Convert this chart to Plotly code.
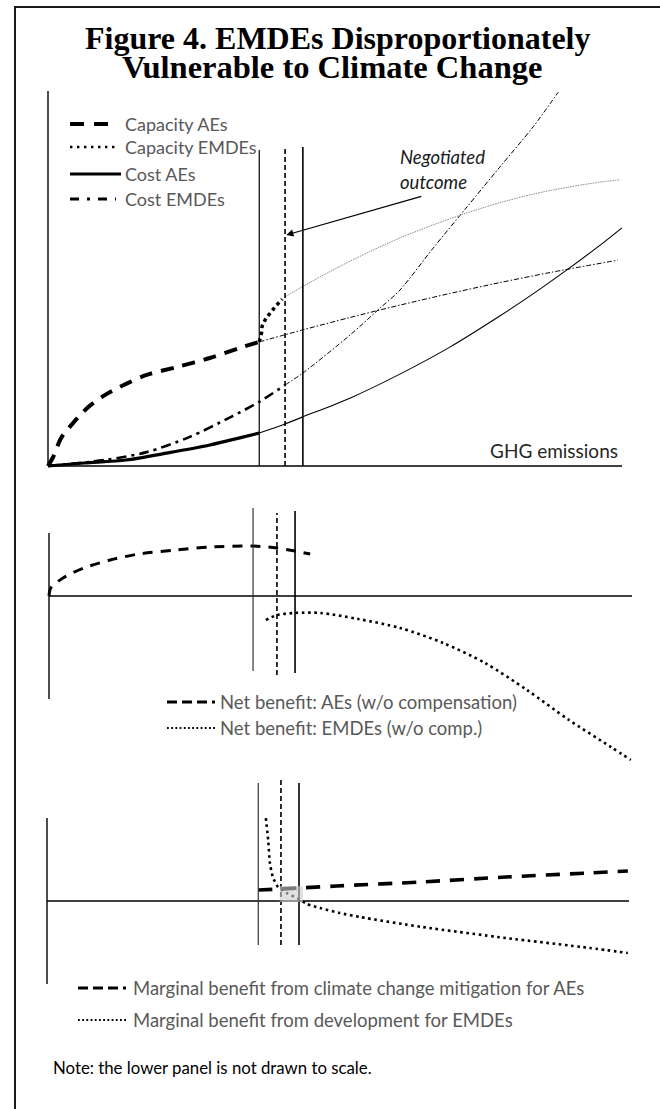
import plotly.graph_objects as go

W, H = 660, 1109

# ---------------- DATA ----------------
# Panel 1 (x: GHG emissions index, y: value index)
cap_ae_x = [0, 0.9, 2.3, 4.5, 7.0, 9.9, 13.6, 17.2, 22.5, 28.2, 33.4, 36.8]
cap_ae_y = [0, 2.4, 7.5, 11.7, 15.7, 18.9, 21.9, 24.3, 26.4, 28.8, 31.5, 33.1]
cap_ae_ext_x = [36.8, 44.4, 52.6, 61.3, 70.0, 78.7, 87.5, 99.3]
cap_ae_ext_y = [33.1, 36.3, 39.6, 42.9, 46.0, 48.9, 51.6, 54.9]
cap_em_x = [36.8, 37.2, 37.3, 38.0, 38.9, 39.7, 40.8]
cap_em_y = [33.1, 35.5, 37.3, 39.5, 41.1, 42.7, 44.5]
cap_em_ext_x = [41.3, 44.4, 50.3, 56.1, 61.3, 67.1, 73.0, 78.7, 84.5, 90.4, 96.2, 99.7]
cap_em_ext_y = [45.1, 47.9, 52.8, 57.2, 60.8, 64.3, 67.5, 70.2, 72.5, 74.3, 75.7, 76.3]
cost_ae_x = [0, 6.3, 13.6, 20.9, 28.2, 33.4, 36.8]
cost_ae_y = [0, 0.8, 1.6, 3.5, 5.6, 7.5, 8.8]
cost_ae_ext_x = [36.8, 41.3, 44.4, 52.6, 61.3, 70.0, 78.7, 84.5, 90.4, 96.2, 100]
cost_ae_ext_y = [8.8, 11.2, 13.1, 18.1, 24.5, 31.7, 40.0, 45.9, 52.3, 58.9, 63.5]
cost_em_x = [0, 9.9, 17.2, 24.6, 31.9, 36.8, 41.3]
cost_em_y = [0, 1.6, 3.7, 7.7, 13.1, 17.1, 21.6]
cost_em_ext_x = [41.3, 44.4, 52.6, 57.7, 61.3, 67.1, 73.0, 78.7, 84.5, 88.9]
cost_em_ext_y = [21.6, 24.8, 34.9, 41.9, 46.9, 58.1, 69.1, 79.7, 90.4, 99.7]
neg1_x = [36.8, 41.3, 44.4]
neg1_top = [84.3, 85.1, 85.1]
axis1_x = [0, 100]
axis1_y = [0, 100]
arrow1_head = (41.5, 61.6)
arrow1_tail = (65.3, 72.0)

# Panel 2 (net benefit)
nb_ae_x = [0, 0.3, 2.4, 6.0, 10.5, 15.4, 22.0, 27.8, 35.0, 39.1, 42.2, 44.8]
nb_ae_y = [0, 5.3, 12.0, 18.7, 24.0, 28.0, 30.7, 32.7, 33.3, 32.0, 30.0, 28.0]
nb_em_x = [37.2, 39.1, 42.2, 46.5, 53.0, 60.2, 67.6, 74.8, 82.0, 89.2, 96.4, 99.8]
nb_em_y = [-16.0, -12.7, -11.3, -11.3, -15.3, -21.3, -31.3, -44.7, -62.7, -82.7, -100.7, -109.3]
neg2_x = [35.0, 39.1, 42.2]
neg2_top = [58.7, 55.3, 56.7]
neg2_bot = [-50.0, -52.7, -51.3]
axis2_x = [0, 100]
axis2_y = [-68.7, 42.0]

# Panel 3 (marginal benefit)
mb_ae_x = [36.3, 40.0, 43.5, 49.8, 64.4, 78.9, 93.3, 99.8]
mb_ae_y = [7.3, 8.0, 8.7, 10.0, 12.7, 16.0, 18.7, 20.0]
mb_em_x = [37.6, 38.0, 38.3, 38.8, 39.7, 41.2, 43.3, 44.7, 46.9, 50.3, 53.8, 64.4, 78.9, 93.3, 99.8]
mb_em_y = [55.3, 40.7, 25.3, 16.0, 9.3, 5.3, 1.3, -2.0, -4.7, -8.0, -10.7, -17.3, -24.7, -31.3, -34.7]
neg3_x = [36.3, 40.2, 43.3]
neg3_top = [78.7, 80.7, 78.7]
neg3_bot = [-29.3, -29.3, -29.3]
shade3_x = [40.0, 44.0]
shade3_y = [-0.7, 10.0]
axis3_x = [0, 100]
axis3_y = [-55.3, 55.3]

# Text
title_1 = "Figure 4. EMDEs Disproportionately"
title_2 = "Vulnerable to Climate Change"
legend1 = ["Capacity AEs", "Capacity EMDEs", "Cost AEs", "Cost EMDEs"]
legend2 = ["Net benefit: AEs (w/o compensation)", "Net benefit: EMDEs (w/o comp.)"]
legend3 = ["Marginal benefit from climate change mitigation for AEs",
           "Marginal benefit from development for EMDEs"]
x_label = "GHG emissions"
neg_label = ["Negotiated", "outcome"]
note = "Note: the lower panel is not drawn to scale."

# ---------------- LAYOUT GEOMETRY (pixels) ----------------
panels = {
    1: dict(ox=48, oy=466, kx=5.74, ky=3.75, top=85, bot=480),
    2: dict(ox=49, oy=596, kx=5.83, ky=1.5, top=500, bot=770),
    3: dict(ox=47, oy=901, kx=5.82, ky=1.5, top=776, bot=1000),
}

def px(x):
    return x / W

def py(y):
    return 1 - y / H

layout_axes = {}
for i, p in panels.items():
    sx = "" if i == 1 else str(i)
    layout_axes["xaxis" + sx] = dict(
        domain=[0, 1], range=[-p["ox"] / p["kx"], (W - p["ox"]) / p["kx"]],
        visible=False, anchor="y" + sx, fixedrange=True)
    layout_axes["yaxis" + sx] = dict(
        domain=[1 - p["bot"] / H, 1 - p["top"] / H],
        range=[(p["oy"] - p["bot"]) / p["ky"], (p["oy"] - p["top"]) / p["ky"]],
        visible=False, anchor="x" + sx, fixedrange=True)

fig = go.Figure()

BLK = "#000000"

def add_line(x, y, ax, width, dash, color=BLK, smooth=True, smoothing=0.8):
    sx = "" if ax == 1 else str(ax)
    fig.add_trace(go.Scatter(
        x=x, y=y, mode="lines", xaxis="x" + sx, yaxis="y" + sx,
        line=dict(color=color, width=width, dash=dash,
                  shape="spline" if smooth else "linear", smoothing=smoothing),
        showlegend=False, hoverinfo="skip"))

# Panel 1 curves
add_line(cost_em_ext_x, cost_em_ext_y, 1, 1.0, "5px,2px,1.5px,2px")
add_line(cap_ae_ext_x, cap_ae_ext_y, 1, 1.0, "5px,2px,1.5px,2px")
add_line(cap_em_ext_x, cap_em_ext_y, 1, 1.0, "1.5px,1px", color="#8a8a8a")
add_line(cost_ae_ext_x, cost_ae_ext_y, 1, 1.1, "solid")
add_line(cap_ae_x, cap_ae_y, 1, 4.0, "13px,9px")
add_line(cap_em_x, cap_em_y, 1, 3.5, "3.5px,3.5px", smooth=False)
add_line(cost_ae_x, cost_ae_y, 1, 3.2, "solid")
add_line(cost_em_x, cost_em_y, 1, 2.6, "10px,5px,3px,5px")

# Panel 2 curves
add_line(nb_ae_x, nb_ae_y, 2, 3.0, "10px,8px")
add_line(nb_em_x, nb_em_y, 2, 2.6, "2.6px,3.6px")

# Panel 3 curves
add_line(mb_em_x, mb_em_y, 3, 2.6, "2.6px,3.6px", smoothing=0.6)
add_line(mb_ae_x, mb_ae_y, 3, 3.6, "14px,10px")

shapes = []

def ref(ax):
    sx = "" if ax == 1 else str(ax)
    return "x" + sx, "y" + sx

# axes lines
for ax, axx, axy in [(1, axis1_x, axis1_y), (2, axis2_x, axis2_y), (3, axis3_x, axis3_y)]:
    xr, yr = ref(ax)
    shapes.append(dict(type="line", xref=xr, yref=yr, x0=axx[0], x1=axx[1], y0=0, y1=0,
                       line=dict(color=BLK, width=1.4), layer="below"))
    shapes.append(dict(type="line", xref=xr, yref=yr, x0=0, x1=0, y0=axy[0], y1=axy[1],
                       line=dict(color=BLK, width=1.4), layer="below"))

vstyles = [dict(width=1.2, dash="solid"), dict(width=1.6, dash="5px,3px"), dict(width=1.6, dash="solid")]
for i in range(3):
    xr, yr = ref(1)
    shapes.append(dict(type="line", xref=xr, yref=yr, x0=neg1_x[i], x1=neg1_x[i], y0=0, y1=neg1_top[i],
                       line=dict(color=BLK, **vstyles[i])))
    xr, yr = ref(2)
    shapes.append(dict(type="line", xref=xr, yref=yr, x0=neg2_x[i], x1=neg2_x[i], y0=neg2_bot[i], y1=neg2_top[i],
                       line=dict(color=BLK if i else "#333333", **vstyles[i])))
    xr, yr = ref(3)
    shapes.append(dict(type="line", xref=xr, yref=yr, x0=neg3_x[i], x1=neg3_x[i], y0=neg3_bot[i], y1=neg3_top[i],
                       line=dict(color=BLK if i else "#333333", **vstyles[i])))

xr, yr = ref(3)
shapes.append(dict(type="rect", xref=xr, yref=yr, x0=shade3_x[0], x1=shade3_x[1], y0=shade3_y[0], y1=shade3_y[1],
                   fillcolor="rgba(205,205,205,0.6)", line=dict(width=0)))

# border frame
shapes.append(dict(type="line", xref="paper", yref="paper", x0=px(15), x1=px(15), y0=0, y1=py(7),
                   line=dict(color="#1a1a1a", width=2)))
shapes.append(dict(type="line", xref="paper", yref="paper", x0=px(14), x1=1, y0=py(7), y1=py(7),
                   line=dict(color="#1a1a1a", width=2)))

# legend samples
def sample(x0, x1, y, width, dash):
    shapes.append(dict(type="line", xref="paper", yref="paper", x0=px(x0), x1=px(x1), y0=py(y), y1=py(y),
                       line=dict(color=BLK, width=width, dash=dash)))

sample(70, 116, 124, 4.0, "14px,10px")
sample(70, 116, 147, 2.4, "2.4px,4.6px")
sample(70, 121, 174, 3.0, "solid")
sample(70, 116, 199, 2.8, "9px,8px,3px,8px")
sample(167, 215, 702, 3.0, "10px,5px")
sample(167, 215, 728, 1.8, "1.8px,2.4px")
sample(78, 126, 988, 3.0, "10px,5px")
sample(78, 126, 1020, 1.8, "1.8px,2.4px")

annotations = []
SANS = "Lato"
GRAY = "#595959"

def text(x, y, s, size=18.5, color=GRAY, anchor="left", family=SANS, italic=False):
    annotations.append(dict(xref="paper", yref="paper", x=px(x), y=py(y), text=s, showarrow=False,
                            xanchor=anchor, yanchor="middle",
                            font=dict(family=family, size=size, color=color,
                                      style="italic" if italic else "normal")))

text(337, 38, "<b>" + title_1 + "</b>", size=32, color=BLK, anchor="center", family="Liberation Serif")
text(332, 67, "<b>" + title_2 + "</b>", size=32.5, color=BLK, anchor="center", family="Liberation Serif")
for s, yy in zip(legend1, [124, 147, 174, 199]):
    text(123, yy, s, size=18)
for s, yy in zip(legend2, [702, 728]):
    text(218, yy, s)
for s, yy in zip(legend3, [988, 1020]):
    text(131, yy, s)
text(620, 450, x_label, size=19, color="#262626", anchor="right")
text(398, 157, neg_label[0], size=18.5, color="#1a1a1a", italic=True)
text(398, 182, neg_label[1], size=18.5, color="#1a1a1a", italic=True)
text(51, 1067, note, size=16.8, color=BLK)

annotations.append(dict(xref="x", yref="y", axref="x", ayref="y",
                        x=arrow1_head[0], y=arrow1_head[1], ax=arrow1_tail[0], ay=arrow1_tail[1],
                        text="", showarrow=True, arrowhead=2, arrowsize=1.2, arrowwidth=1.2,
                        arrowcolor=BLK))

fig.update_layout(
    width=W, height=H, margin=dict(l=0, r=0, t=0, b=0, pad=0),
    paper_bgcolor="white", plot_bgcolor="rgba(0,0,0,0)",
    shapes=shapes, annotations=annotations, showlegend=False,
    **layout_axes)

fig.write_html("out.html", config={"displayModeBar": False},
               post_script="document.body.style.margin='0';")
